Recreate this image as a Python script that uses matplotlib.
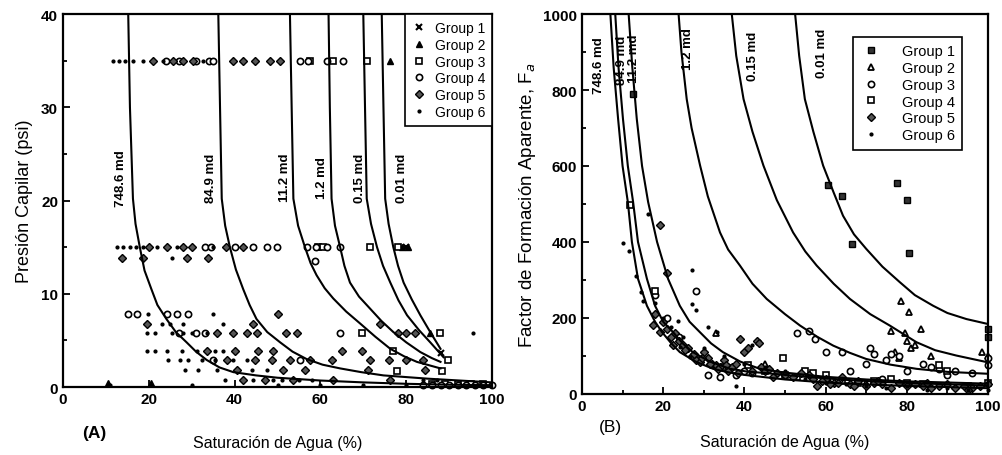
import matplotlib
matplotlib.use("Agg")
import matplotlib.pyplot as plt
from matplotlib.ticker import MultipleLocator

plt.rcParams['font.family'] = ['Liberation Sans', 'DejaVu Sans']

# ---------------- Panel A data (Sw %, Pc psi) ----------------
curveA_labels = ["748.6 md", "84.9 md", "11.2 md", "1.2 md", "0.15 md", "0.01 md"]
curveA_label_x = [13.6, 34.6, 51.8, 60.3, 69.3, 79.0]
curveA_x = [
    [15.2, 15.6, 16.3, 16.9, 17.9, 19.0, 20.6, 22.0, 24.1, 26.3, 28.8, 31.0, 33.5, 36.5, 39.7, 45, 50, 60, 70, 80, 90, 100],
    [36.2, 36.6, 37.0, 37.8, 38.9, 40.3, 42.0, 43.5, 45.1, 47.6, 50.6, 53.5, 56.8, 60.5, 64.6, 69.5, 74.7, 85, 100],
    [52.9, 53.3, 53.7, 54.8, 56.4, 57.7, 59.1, 61.0, 63.0, 66.0, 69.3, 72.8, 76.3, 79.5, 82.5, 88.0],
    [61.9, 62.2, 62.6, 63.4, 64.6, 65.6, 66.9, 69.0, 71.6, 74.2, 77.0, 80.0, 83.3, 86.0, 88.0],
    [70.0, 70.4, 70.8, 71.8, 73.2, 74.6, 76.3, 78.2, 80.2, 83.0, 85.6, 88.7],
    [74.3, 74.7, 75.1, 75.9, 77.0, 78.1, 79.4, 81.3, 83.3, 85.6, 88.0],
]
curveA_y = [
    [40, 30, 20.2, 17.5, 15, 12.5, 10.5, 8.8, 7.3, 5.9, 4.8, 3.8, 2.9, 2.1, 1.6, 1.25, 1.0, 0.7, 0.5, 0.35, 0.25, 0.2],
    [40, 30, 20.2, 17.3, 15, 12.6, 10.5, 8.8, 7.3, 5.9, 4.8, 3.8, 3.0, 2.4, 2.0, 1.6, 1.25, 0.9, 0.5],
    [40, 30, 20.2, 17.3, 15, 13.3, 12, 10.6, 9.5, 8.1, 6.8, 5.4, 4.1, 3.3, 2.7, 2.0],
    [40, 30, 20.2, 17.3, 15, 13, 11.2, 9.7, 8.4, 7.1, 5.9, 4.8, 3.75, 3.1, 2.7],
    [40, 30, 20.2, 17.5, 15, 13, 11.2, 9.3, 7.7, 6.1, 4.8, 3.2],
    [40, 30, 20.2, 17.5, 15, 13, 11.2, 9.4, 7.7, 5.9, 4.1],
]

gA1_x = [88.0, 80.0]
gA1_y = [3.6, 15.0]
gA2_x = [76.2, 79.0, 80.5, 85.5, 10.5, 20.5]
gA2_y = [35.0, 15.0, 15.0, 5.8, 0.4, 0.4]
gA3_x = [57.5, 63.0, 70.8, 59.5, 60.5, 71.6, 78.0, 69.7, 87.9, 77.0, 89.7, 77.9, 88.3, 86, 89, 92, 95, 98]
gA3_y = [35, 35, 35, 15, 15, 15, 15, 5.8, 5.8, 3.9, 2.9, 1.7, 1.7, 0.3, 0.3, 0.3, 0.3, 0.3]
gA4_x = [24, 27, 31, 34, 35, 55.2, 57, 61.5, 65.3,
         33, 34.5, 40, 44.3, 47.5, 49.9, 56.8, 59, 61.5, 64.6,
         58.7, 15.2, 17.2, 24.2, 26.5, 29.2, 27, 31, 33, 64.6, 35, 55.2,
         84, 86, 88, 90, 92, 94, 96, 98, 100]
gA4_y = [35, 35, 35, 35, 35, 35, 35, 35, 35,
         15, 15, 15, 15, 15, 15, 15, 15, 15, 15,
         13.5, 7.8, 7.8, 7.8, 7.8, 7.8, 5.8, 5.8, 5.8, 5.8, 2.9, 2.9,
         0.2, 0.2, 0.2, 0.2, 0.2, 0.2, 0.2, 0.2, 0.2]
gA5_x = [21, 25.6, 28, 30.3, 39.6, 42, 44.8, 48.3, 50.6,
         20, 24.2, 28, 30, 38, 42,
         13.7, 18.6, 28.9, 33.8,
         50.2, 19.5, 44.3, 73.9,
         35.9, 39.6, 42.8, 45.2, 52, 54.5, 78, 80, 82,
         33.5, 40.1, 45.5, 49, 65, 69.7,
         38.2, 44.8, 48.7, 52.9, 57.6, 62.7, 71.6, 76, 80, 84,
         40.5, 51.3, 56.4, 71.1, 84.4,
         42, 47.1, 53.6, 63, 76.2]
gA5_y = [35, 35, 35, 35, 35, 35, 35, 35, 35,
         15, 15, 15, 15, 15, 15,
         13.8, 13.8, 13.8, 13.8,
         7.8, 6.8, 6.8, 6.8,
         5.8, 5.8, 5.8, 5.8, 5.8, 5.8, 5.8, 5.8, 5.8,
         3.9, 3.9, 3.9, 3.9, 3.9, 3.9,
         2.9, 2.9, 2.9, 2.9, 2.9, 2.9, 2.9, 2.9, 2.9, 2.9,
         1.8, 1.8, 1.8, 1.8, 1.8,
         0.8, 0.8, 0.8, 0.8, 0.8]
gA6_x = [11.7, 13, 14.5, 16.3, 18.6, 23.3, 32.6,
         12.5, 14, 15.5, 17, 18.6, 22, 26.5, 35,
         25.4, 19.8, 35, 23, 25, 28, 37.3,
         19.5, 21.4, 25.4, 28, 30, 33.5,
         19.5, 21.4, 24.2, 27.7, 31.2, 35.4, 37.3,
         24.5, 27.3, 29.1, 32.4, 35.4, 39.6, 42.9,
         28.4, 31.5, 35.9, 44, 47.5,
         37.8, 44.3, 49, 51, 55, 58, 83.9, 87.2,
         11, 30, 50, 60, 70, 80, 95.6]
gA6_y = [35, 35, 35, 35, 35, 35, 35,
         15, 15, 15, 15, 15, 15, 15, 15,
         13.8, 7.8, 7.8, 6.8, 6.8, 6.8, 6.8,
         5.8, 5.8, 5.8, 5.8, 5.8, 5.8,
         3.9, 3.9, 3.9, 3.9, 3.9, 3.9, 3.9,
         2.9, 2.9, 2.9, 2.9, 2.9, 2.9, 2.9,
         1.8, 1.8, 1.8, 1.8, 1.8,
         0.8, 0.8, 0.8, 0.8, 0.8, 0.8, 0.8, 0.8,
         0.2, 0.2, 0.2, 0.2, 0.2, 0.2, 5.8]

# ---------------- Panel B data (Sw %, apparent formation factor) ----------------
curveB_labels = ["748.6 md", "84.9 md", "11.2 md", "1.2 md", "0.15 md", "0.01 md"]
curveB_label_x = [4.1, 9.8, 12.7, 26.0, 42.2, 59.0]
curveB_label_y = [868, 880, 885, 910, 890, 900]
curveB_x = [
    [7.0, 7.8, 8.9, 10.0, 11.3, 12.3, 13.8, 16.0, 18.0, 19.7, 22.0, 24.1, 28.0, 32.3, 36.0, 40, 50, 60, 70, 80, 90, 100],
    [8.2, 9.0, 10.1, 11.3, 12.6, 13.8, 16.0, 18.0, 20.0, 22.4, 24.8, 27.3, 31.5, 36.5, 40.5, 45, 55, 65, 75, 85, 100],
    [11.5, 12.4, 13.5, 14.8, 16.3, 18.5, 21.2, 24.1, 26.5, 29.0, 31.8, 34.7, 39.0, 43.8, 50, 60, 70, 80, 90, 100],
    [23.8, 24.5, 25.8, 27.0, 29.1, 31.0, 34.0, 36.0, 38.9, 42.0, 45.5, 50.0, 53.7, 58.0, 61.9, 66.0, 70.0, 76.0, 82.4, 90.0, 100],
    [36.9, 38.0, 39.8, 42.0, 44.7, 48.0, 52.0, 55.0, 57.8, 62.0, 66.0, 71.0, 75.8, 82.4, 87.0, 92.2, 100],
    [52.5, 53.5, 54.9, 57.0, 59.4, 62.0, 64.3, 67.0, 70.0, 74.0, 78.3, 82.0, 86.5, 90.0, 94.7, 100],
]
curveB_y = [
    [1000, 860, 724, 600, 505, 400, 303, 232, 190, 163, 133, 110, 85, 66, 57, 50, 38, 30, 25, 21, 18, 15],
    [1000, 860, 724, 600, 505, 400, 303, 232, 190, 163, 133, 110, 85, 66, 59, 55, 45, 37, 31, 27, 22],
    [1000, 860, 724, 600, 505, 400, 303, 232, 190, 163, 133, 110, 85, 66, 56, 45, 38, 33, 30, 27],
    [1000, 900, 776, 700, 601, 520, 425, 380, 338, 290, 250, 210, 180, 150, 127, 108, 92, 77, 66, 58, 53],
    [1000, 890, 776, 690, 601, 510, 425, 375, 338, 290, 250, 210, 180, 136, 115, 101, 83],
    [1000, 890, 776, 690, 601, 530, 469, 420, 382, 335, 294, 260, 232, 213, 197, 184],
]

gB1_x = [12.5, 60.5, 64, 66.5, 77.5, 80, 80.5, 100, 100]
gB1_y = [790, 550, 520, 395, 555, 510, 370, 170, 150]
gB2_x = [76, 78.5, 79.5, 80, 80.5, 81, 83.5, 77, 78, 82, 86, 98.5, 100, 33, 45, 70]
gB2_y = [165, 245, 160, 140, 215, 120, 170, 110, 95, 130, 100, 110, 100, 160, 80, 30]
gB3_x = [53, 56, 57.5, 60, 64, 71, 70, 72, 75, 76, 78, 80, 84, 86, 88, 92, 96, 100, 100,
         31, 34, 38, 28.2, 40, 42, 66, 74, 90, 18, 21, 24, 36]
gB3_y = [160, 165, 145, 110, 110, 120, 80, 105, 90, 105, 100, 60, 80, 70, 65, 60, 55, 95, 75,
         50, 45, 50, 272, 60, 55, 60, 40, 50, 260, 200, 150, 70]
gB4_x = [49.5, 11.8, 18, 55, 57, 60, 64, 68, 72, 76, 80, 84, 88, 90, 95, 100, 35, 45, 50, 29, 41, 53]
gB4_y = [95, 497, 270, 60, 55, 50, 35, 30, 35, 40, 30, 25, 75, 60, 20, 30, 70, 60, 50, 90, 75, 45]
gB5_x = [17.4, 18, 19.2, 19.2, 20.9, 20, 21, 22, 23, 24, 25, 26, 27, 28, 29, 30, 31, 32, 33,
         34, 35, 36, 37, 38, 39, 40, 41, 42, 43, 43.5, 44, 45, 46, 48, 50, 52, 54, 56, 58,
         60, 62, 64, 66, 68, 70, 72, 74, 76, 78, 80, 82, 84, 86, 88, 90, 92, 94, 96, 98, 100,
         22.5, 25.5, 27.5, 29.5, 31.5, 33.5, 35.5, 38.5, 47, 57, 59, 61, 63, 67, 73, 85, 95]
gB5_y = [182, 210, 444, 163, 318, 190, 170, 150, 160, 140, 130, 120, 100, 90, 85, 110, 95, 80, 75,
         70, 90, 60, 70, 80, 145, 110, 120, 60, 140, 135, 70, 60, 65, 55, 50, 45, 55, 50, 20,
         40, 30, 45, 25, 35, 20, 30, 25, 15, 30, 20, 25, 20, 15, 20, 25, 15, 20, 15, 20, 25,
         130, 115, 105, 95, 80, 65, 75, 55, 45, 40, 35, 25, 30, 20, 35, 30, 10]
gB6_x = [10.2, 11.7, 13.2, 14.5, 15.1, 16.3, 27, 27, 28.2, 23.7, 31.1, 33.2, 26.6, 24.1,
         18, 20, 22, 25, 30, 35, 40, 45, 50, 55, 60, 65, 70, 75, 80, 85, 90, 95, 100, 38, 42]
gB6_y = [397, 377, 310, 268, 245, 473, 237, 325, 222, 193, 175, 162, 97, 123,
         240, 200, 175, 150, 120, 100, 80, 70, 60, 40, 30, 25, 20, 15, 20, 10, 15, 10, 10, 20, 130]

group_names = ["Group 1", "Group 2", "Group 3", "Group 4", "Group 5", "Group 6"]

fig = plt.figure(figsize=(10.02, 4.56), dpi=100)
axA = fig.add_axes([0.0629, 0.149, 0.4281, 0.818])
axB = fig.add_axes([0.5808, 0.134, 0.4052, 0.833])

ms = 4.5
stylesA = [
    dict(marker='x', color='k', ms=ms, mew=1.5, ls='none'),
    dict(marker='^', color='k', ms=ms, ls='none'),
    dict(marker='s', mfc='white', mec='k', ms=ms, mew=1.2, ls='none'),
    dict(marker='o', mfc='white', mec='k', ms=ms, mew=1.2, ls='none'),
    dict(marker='D', color='k', mfc='#555555', mec='k', ms=ms, ls='none'),
    dict(marker='.', color='k', ms=4, ls='none'),
]
dataA = [(gA1_x, gA1_y), (gA2_x, gA2_y), (gA3_x, gA3_y), (gA4_x, gA4_y), (gA5_x, gA5_y), (gA6_x, gA6_y)]
for (xs, ys), st, nm in zip(dataA, stylesA, group_names):
    axA.plot(xs, ys, label=nm, clip_on=False, **st)
for xs, ys in zip(curveA_x, curveA_y):
    axA.plot(xs, ys, color='k', lw=1.5)
for lab, lx in zip(curveA_labels, curveA_label_x):
    axA.text(lx, 22.5, lab, rotation=90, ha='center', va='center', fontsize=9.5, fontweight='bold')

stylesB = [
    dict(marker='s', color='k', mfc='#333333', ms=ms, ls='none'),
    dict(marker='^', mfc='white', mec='k', ms=ms + 0.5, mew=1.3, ls='none'),
    dict(marker='o', mfc='white', mec='k', ms=ms, mew=1.2, ls='none'),
    dict(marker='s', mfc='white', mec='k', ms=ms, mew=1.2, ls='none'),
    dict(marker='D', color='k', mfc='#555555', mec='k', ms=ms, ls='none'),
    dict(marker='.', color='k', ms=4, ls='none'),
]
dataB = [(gB1_x, gB1_y), (gB2_x, gB2_y), (gB3_x, gB3_y), (gB4_x, gB4_y), (gB5_x, gB5_y), (gB6_x, gB6_y)]
for (xs, ys), st, nm in zip(dataB, stylesB, group_names):
    axB.plot(xs, ys, label=nm, clip_on=False, **st)
for xs, ys in zip(curveB_x, curveB_y):
    axB.plot(xs, ys, color='k', lw=1.5)
for lab, lx, ly in zip(curveB_labels, curveB_label_x, curveB_label_y):
    axB.text(lx, ly, lab, rotation=90, ha='center', va='center', fontsize=9.5, fontweight='bold')

axA.set_xlim(0, 100)
axA.set_ylim(0, 40)
axB.set_xlim(0, 100)
axB.set_ylim(0, 1000)
axA.xaxis.set_major_locator(MultipleLocator(20))
axA.yaxis.set_major_locator(MultipleLocator(10))
axA.yaxis.set_minor_locator(MultipleLocator(5))
axB.xaxis.set_major_locator(MultipleLocator(20))
axB.xaxis.set_minor_locator(MultipleLocator(10))
axB.yaxis.set_major_locator(MultipleLocator(200))
axB.yaxis.set_minor_locator(MultipleLocator(100))

for ax in (axA, axB):
    for sp in ax.spines.values():
        sp.set_linewidth(1.6)
    ax.tick_params(which='both', direction='in', width=1.3, labelsize=11)
    ax.tick_params(which='major', length=5)
    ax.tick_params(which='minor', length=3)
    for t in ax.get_xticklabels() + ax.get_yticklabels():
        t.set_fontweight('bold')

axA.set_ylabel("Presión Capilar (psi)", fontsize=13, labelpad=6)
axB.set_ylabel("Factor de Formación Aparente, F$_a$", fontsize=13.5, labelpad=4)
axA.set_xlabel("Saturación de Agua (%)", fontsize=11.5, labelpad=21)
axB.set_xlabel("Saturación de Agua (%)", fontsize=11.5, labelpad=15)
fig.text(0.082, 0.05, "(A)", fontsize=12.5, fontweight='bold', ha='left', va='center')
fig.text(0.598, 0.063, "(B)", fontsize=12.5, ha='left', va='center')

legA = axA.legend(loc='upper right', fontsize=10, handlelength=1.0, handletextpad=0.6,
                  borderpad=0.5, labelspacing=0.2, fancybox=False, edgecolor='k',
                  borderaxespad=0.0, framealpha=1)
legA.get_frame().set_linewidth(1.2)
legB = axB.legend(loc='upper right', bbox_to_anchor=(0.955, 0.96), fontsize=10.5,
                  handlelength=1.5, handletextpad=1.4, borderpad=0.5, labelspacing=0.2,
                  fancybox=False, edgecolor='k', framealpha=1)
legB.get_frame().set_linewidth(1.2)

fig.savefig("out.png", dpi=100)
